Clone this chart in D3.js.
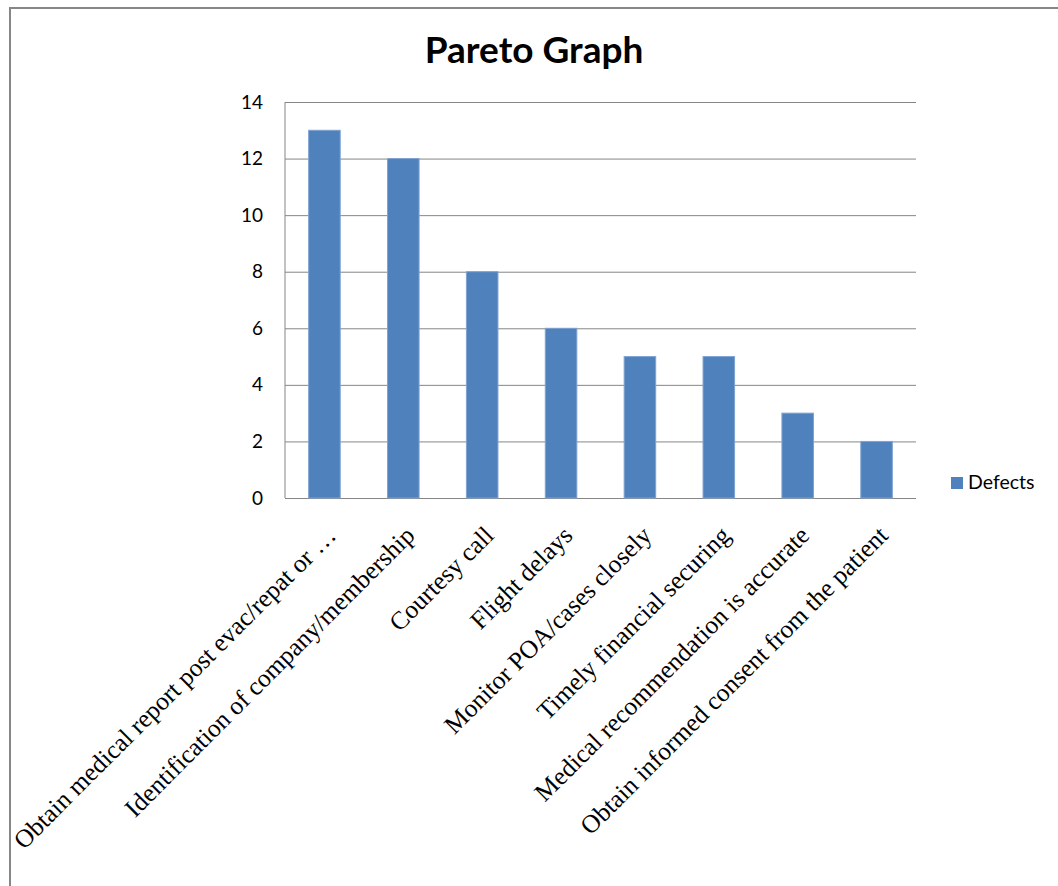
<!DOCTYPE html>
<html>
<head>
<meta charset="utf-8">
<script src="https://cdn.jsdelivr.net/npm/d3@7"></script>
<style>
  body { margin: 0; background: #fff; }
  svg { display: block; }
</style>
</head>
<body>
<div id="chart"></div>
<script>
// data
const categories = [
    "Obtain medical report post evac/repat or \u2026",
    "Identification of company/membership",
    "Courtesy call",
    "Flight delays",
    "Monitor POA/cases closely",
    "Timely financial securing",
    "Medical recommendation is accurate",
    "Obtain informed consent from the patient"
];
const defects = [13, 12, 8, 6, 5, 5, 3, 2];
const yTicks = [0, 2, 4, 6, 8, 10, 12, 14];
const seriesName = "Defects";

function drawPareto(place) {
    let dimensions = {
        width: 1058,
        height: 886,
        margin: { top: 102, right: 142, bottom: 388, left: 285 }
    };
    dimensions.boundW = dimensions.width - dimensions.margin.left - dimensions.margin.right;
    dimensions.boundH = dimensions.height - dimensions.margin.top - dimensions.margin.bottom;

    const svg = d3.select(place).append('svg')
        .attr('width', dimensions.width)
        .attr('height', dimensions.height);

    // chart frame (only top + left are visible in the crop)
    svg.append('rect')
        .attr('x', 10).attr('y', 8)
        .attr('width', 1100).attr('height', 1000)
        .attr('fill', 'none')
        .attr('stroke', '#868686')
        .attr('stroke-width', 2);

    svg.append('text')
        .attr('x', 534)
        .attr('y', 63)
        .attr('text-anchor', 'middle')
        .style('font-family', 'Lato, "Open Sans", sans-serif')
        .style('font-weight', 'bold')
        .style('font-size', '37px')
        .text('Pareto Graph');

    const bounds = svg.append('g')
        .attr('transform', `translate(${dimensions.margin.left},${dimensions.margin.top})`);

    const yScale = d3.scaleLinear()
        .domain([0, 14])
        .range([dimensions.boundH, 0]);

    const xScale = d3.scaleBand()
        .domain(categories)
        .range([0, dimensions.boundW])
        .paddingInner(0.6)
        .paddingOuter(0.3);

    // grid
    const yAxisGenerator = d3.axisLeft(yScale)
        .tickValues(yTicks)
        .tickSize(-dimensions.boundW)
        .tickPadding(22)
        .tickFormat(d3.format('d'));

    const yAxis = bounds.append('g').call(yAxisGenerator);
    yAxis.select('.domain').remove();
    yAxis.selectAll('line').attr('stroke', '#868686');
    yAxis.selectAll('text')
        .style('font-family', 'Lato, "Open Sans", sans-serif')
        .style('font-size', '19px')
        .attr('fill', '#000');

    // left axis line
    bounds.append('line')
        .attr('x1', 0).attr('x2', 0)
        .attr('y1', 0).attr('y2', dimensions.boundH)
        .attr('stroke', '#868686');

    // bars
    bounds.selectAll('rect.bar')
        .data(defects)
        .join('rect')
        .attr('class', 'bar')
        .attr('x', (d, i) => xScale(categories[i]))
        .attr('y', d => yScale(d))
        .attr('width', xScale.bandwidth())
        .attr('height', d => dimensions.boundH - yScale(d))
        .attr('fill', '#4F81BD')
        .attr('stroke', '#7FA3D1')
        .attr('stroke-width', 1);

    // x labels
    bounds.append('g').selectAll('text')
        .data(categories)
        .join('text')
        .attr('text-anchor', 'end')
        .attr('transform', d => {
            const cx = xScale(d) + xScale.bandwidth() / 2;
            return `translate(${cx + 13},${dimensions.boundH + 39}) rotate(-45)`;
        })
        .style('font-family', '"Liberation Serif", "Times New Roman", serif')
        .style('font-size', '25.5px')
        .attr('fill', '#000')
        .text(d => d);

    // legend
    const legend = svg.append('g').attr('transform', 'translate(951,477)');
    legend.append('rect')
        .attr('width', 12).attr('height', 12)
        .attr('fill', '#4F81BD');
    legend.append('text')
        .attr('x', 17).attr('y', 12)
        .style('font-family', 'Lato, "Open Sans", sans-serif')
        .style('font-size', '19.5px')
        .attr('fill', '#000')
        .text(seriesName);
}

drawPareto('#chart');
</script>
</body>
</html>
